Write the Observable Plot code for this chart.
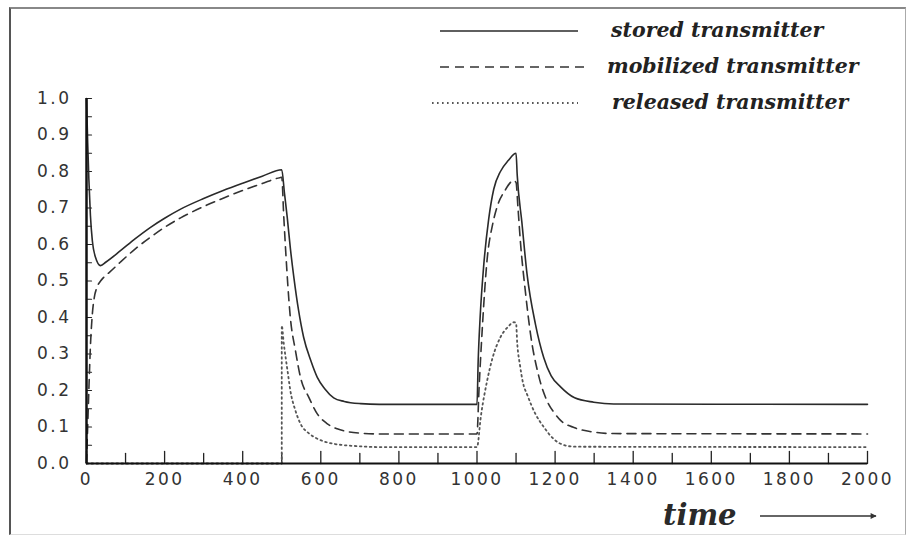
<!DOCTYPE html>
<html>
<head>
<meta charset="utf-8">
<script src="https://cdn.jsdelivr.net/npm/d3@7"></script>
<script src="https://cdn.jsdelivr.net/npm/@observablehq/plot@0.6"></script>
<style>
  html, body { margin: 0; padding: 0; background: #fff; }
  #wrap { position: relative; width: 909px; height: 538px; overflow: hidden; }
  #frame { position: absolute; left: 9px; top: 7px; width: 897px; height: 528px;
           border-left: 2px solid #555; border-top: 2px solid #888; border-right: 1px solid #aaa; border-bottom: 1px solid #ddd; box-sizing: border-box; }
  #chart { position: absolute; left: 0; top: 0; }
  #overlay { position: absolute; left: 0; top: 0; pointer-events: none; }
  #chart svg g[aria-label="x-axis tick label"] text,
  #chart svg g[aria-label="y-axis tick label"] text { letter-spacing: 2.5px; }
</style>
</head>
<body>
<div id="wrap">
  <div id="frame"></div>
  <div id="chart"></div>
  <svg id="overlay" width="909" height="538"></svg>
</div>
<script>
// ---- data ----
const storedT = [0, 3, 6, 10, 15, 23, 36, 50, 87, 125, 164, 200, 241, 300, 350, 400, 450, 500,
  507, 514, 522, 531, 543, 556, 575, 591, 610, 633, 660, 702, 750, 1000,
  1003, 1008, 1017, 1030, 1043, 1060, 1080, 1100,
  1103, 1115, 1128, 1150, 1171, 1190, 1214, 1250, 1299, 1350, 2000];
const storedV = [1.0, 0.88, 0.78, 0.68, 0.61, 0.565, 0.542, 0.552, 0.583, 0.616, 0.647, 0.672, 0.697, 0.726, 0.748, 0.768, 0.787, 0.805,
  0.74, 0.675, 0.59, 0.51, 0.42, 0.346, 0.28, 0.236, 0.205, 0.18, 0.17, 0.164, 0.162, 0.162,
  0.28, 0.40, 0.54, 0.67, 0.752, 0.80, 0.83, 0.85,
  0.79, 0.66, 0.52, 0.38, 0.29, 0.24, 0.21, 0.18, 0.168, 0.163, 0.162];

const mobilizedT = [0, 3, 6, 10, 15, 20, 27, 36, 44, 60, 87, 125, 164, 200, 241, 300, 350, 400, 450, 495, 500,
  505, 510, 522, 535, 548, 570, 591, 615, 642, 670, 702, 750, 1000,
  1005, 1013, 1026, 1040, 1052, 1070, 1094, 1100,
  1105, 1111, 1124, 1137, 1158, 1180, 1197, 1214, 1250, 1299, 1350, 2000];
const mobilizedV = [0.0, 0.10, 0.20, 0.32, 0.41, 0.455, 0.483, 0.50, 0.51, 0.525, 0.552, 0.588, 0.62, 0.647, 0.673, 0.704, 0.727, 0.748, 0.767, 0.783, 0.784,
  0.68, 0.584, 0.40, 0.31, 0.236, 0.18, 0.136, 0.11, 0.095, 0.087, 0.083, 0.081, 0.081,
  0.20, 0.36, 0.56, 0.655, 0.705, 0.745, 0.775, 0.77,
  0.70, 0.61, 0.47, 0.355, 0.24, 0.17, 0.14, 0.118, 0.098, 0.086, 0.082, 0.081];

const releasedT = [0, 500, 500, 505, 510, 516, 522, 535, 548, 570, 591, 633, 702, 750, 1000,
  1010, 1026, 1040, 1060, 1080, 1094, 1100,
  1103, 1110, 1118, 1128, 1150, 1171, 1190, 1214, 1250, 2000];
const releasedV = [0, 0, 0.378, 0.33, 0.29, 0.245, 0.20, 0.145, 0.109, 0.082, 0.068, 0.054, 0.047, 0.045, 0.045,
  0.13, 0.227, 0.29, 0.346, 0.375, 0.387, 0.385,
  0.33, 0.27, 0.22, 0.19, 0.135, 0.10, 0.074, 0.054, 0.046, 0.045];

const seriesNames = ["stored transmitter", "mobilized transmitter", "released transmitter"];
const xTicks = [0, 100, 200, 300, 400, 500, 600, 700, 800, 900, 1000, 1100, 1200, 1300, 1400, 1500, 1600, 1700, 1800, 1900, 2000];
const xTickLabels = [0, 200, 400, 600, 800, 1000, 1200, 1400, 1600, 1800, 2000];
const yTicks = [0, 0.05, 0.1, 0.15, 0.2, 0.25, 0.3, 0.35, 0.4, 0.45, 0.5, 0.55, 0.6, 0.65, 0.7, 0.75, 0.8, 0.85, 0.9, 0.95, 1.0];
const yTickLabels = [0, 0.1, 0.2, 0.3, 0.4, 0.5, 0.6, 0.7, 0.8, 0.9, 1.0];
const xAxisLabel = "time";

// ---- build ----
const styles = {
  "stored transmitter": {stroke: "#2a2a2a", dash: null, width: 1.6},
  "mobilized transmitter": {stroke: "#333", dash: "9,6", width: 1.6},
  "released transmitter": {stroke: "#555", dash: "1.6,3.4", width: 1.8}
};
const tables = [
  storedT.map((t, i) => ({t, v: storedV[i], s: seriesNames[0]})),
  mobilizedT.map((t, i) => ({t, v: mobilizedV[i], s: seriesNames[1]})),
  releasedT.map((t, i) => ({t, v: releasedV[i], s: seriesNames[2]}))
];

const lineMarks = tables.map(tab => {
  const st = styles[tab[0].s];
  return Plot.line(tab, {x: "t", y: "v", stroke: st.stroke, strokeWidth: st.width,
    strokeDasharray: st.dash, curve: "monotone-x"});
});

// inward tick shape: a straight stroke of the vector's length
const tickShape = {draw(context, l) { context.moveTo(0, 0); context.lineTo(0, -l); }};

const chart = Plot.plot({
  width: 909, height: 538,
  marginLeft: 86, marginRight: 42, marginTop: 98, marginBottom: 75,
  x: {domain: [0, 2000], label: null},
  y: {domain: [0, 1], label: null},
  style: {fontFamily: "DejaVu Sans", fontSize: "17px", color: "#333", background: "transparent"},
  marks: [
    Plot.vector(xTicks, {x: d => d, y: 0, length: d => (d % 200 === 0 ? 6 : 5), anchor: "start",
      shape: tickShape, stroke: "#222", strokeWidth: 1.3}),
    Plot.vector(yTicks, {x: 0, y: d => d, length: 5, rotate: 90, anchor: "start",
      shape: tickShape, stroke: "#222", strokeWidth: 1.2}),
    Plot.axisX(xTickLabels, {tickSize: 0, tickPadding: 9, fontSize: 17, fill: "#333",
      tickFormat: d => String(d), label: null}),
    Plot.axisY(yTickLabels, {tickSize: 0, tickPadding: 15, fontSize: 17, fill: "#333",
      tickFormat: d => d.toFixed(1), label: null}),
    ...lineMarks,
    Plot.ruleY([0], {stroke: "#111", strokeWidth: 2}),
    Plot.ruleX([0], {stroke: "#111", strokeWidth: 2.5})
  ]
});
document.getElementById("chart").appendChild(chart);

// ---- legend & axis title overlay ----
const ov = d3.select("#overlay");
const legendY0 = 31, legendDy = 36;
const legendLine = [[440, 578], [440, 590], [432, 578]];
const legendTextX = [611, 607, 612];
seriesNames.forEach((name, i) => {
  const st = styles[name];
  const y = legendY0 + i * legendDy;
  ov.append("line").attr("x1", legendLine[i][0]).attr("x2", legendLine[i][1])
    .attr("y1", y).attr("y2", y)
    .attr("stroke", st.stroke).attr("stroke-width", st.width)
    .attr("stroke-dasharray", st.dash);
  ov.append("text").attr("x", legendTextX[i]).attr("y", y + 6)
    .attr("font-family", "DejaVu Serif").attr("font-style", "italic").attr("font-weight", "bold")
    .attr("font-size", 20.5).attr("fill", "#222").text(name);
});
ov.append("text").attr("x", 663).attr("y", 525)
  .attr("font-family", "DejaVu Serif").attr("font-style", "italic").attr("font-weight", "bold")
  .attr("font-size", 29).attr("fill", "#2a2a2a").text(xAxisLabel);
ov.append("defs").append("marker").attr("id", "arr").attr("viewBox", "0 0 10 10")
  .attr("refX", 9).attr("refY", 5).attr("markerWidth", 10).attr("markerHeight", 6)
  .attr("markerUnits", "userSpaceOnUse").attr("orient", "auto")
  .append("path").attr("d", "M0,0 L10,5 L0,10 Z").attr("fill", "#333");
ov.append("line").attr("x1", 760).attr("x2", 876).attr("y1", 516).attr("y2", 516)
  .attr("stroke", "#333").attr("stroke-width", 1.3).attr("marker-end", "url(#arr)");
</script>
</body>
</html>
